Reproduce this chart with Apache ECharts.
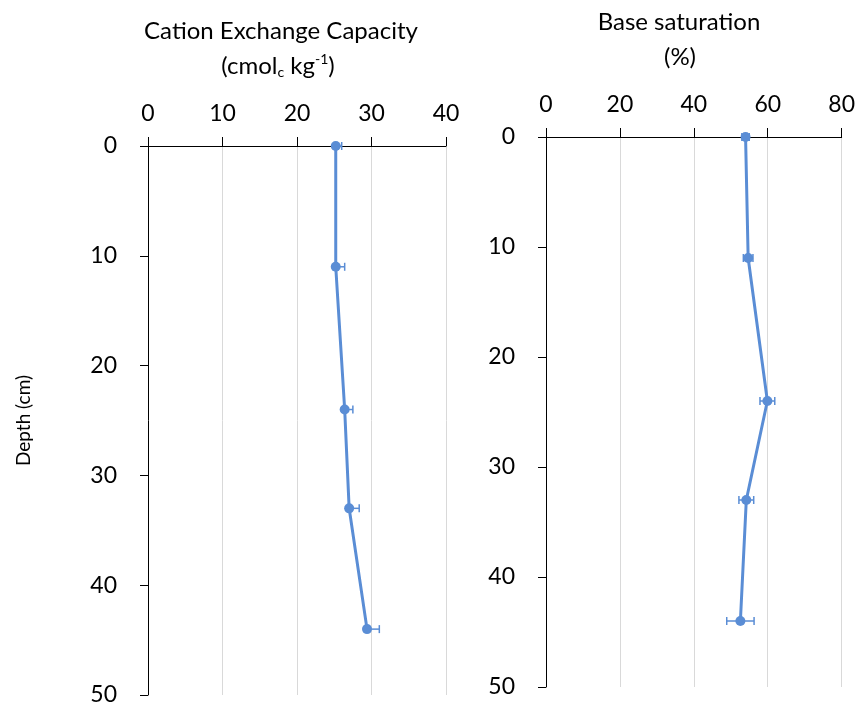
<!DOCTYPE html>
<html>
<head>
<meta charset="utf-8">
<script src="https://cdn.jsdelivr.net/npm/echarts@6/dist/echarts.min.js"></script>
<style>
  html, body { margin: 0; padding: 0; background: #fff; }
  #chart { width: 858px; height: 708px; }
</style>
</head>
<body>
<div id="chart"></div>
<script>
// Soil profile: depth of each sampled layer (cm)
const depths = [0, 11, 24, 33, 44];
// Cation exchange capacity (cmolc/kg) and its standard error (plus direction)
const cecValues = [25.2, 25.2, 26.4, 27.0, 29.4];
const cecErrors = [0.8, 1.2, 1.1, 1.35, 1.65];
// Base saturation (%) and its standard error (both directions)
const bsValues = [54.0, 54.7, 59.9, 54.2, 52.6];
const bsErrors = [1.0, 1.3, 2.0, 2.0, 3.7];
// Tick settings
const cecTicks = { min: 0, max: 40, interval: 10 };
const bsTicks = { min: 0, max: 80, interval: 20 };
const depthTicks = { min: 0, max: 50, interval: 10 };

const FONT = 'Lato, "Open Sans", sans-serif';
const BLUE = '#5A8DD5';

function pairs(xs) { return xs.map((v, i) => [v, depths[i]]); }

// Error bar rows: [value, depth, low, high]
const cecErrRows = cecValues.map((v, i) => [v, depths[i], v, v + cecErrors[i]]);
const bsErrRows = bsValues.map((v, i) => [v, depths[i], v - bsErrors[i], v + bsErrors[i]]);

function errorBarItem(params, api) {
  const d = api.value(1);
  const lo = api.coord([api.value(2), d]);
  const hi = api.coord([api.value(3), d]);
  const cap = 4;
  const style = { stroke: BLUE, lineWidth: 1.5, fill: null };
  const children = [
    { type: 'line', shape: { x1: lo[0], y1: lo[1], x2: hi[0], y2: hi[1] }, style },
    { type: 'line', shape: { x1: hi[0], y1: hi[1] - cap, x2: hi[0], y2: hi[1] + cap }, style }
  ];
  if (api.value(2) < api.value(0)) {
    children.push({ type: 'line', shape: { x1: lo[0], y1: lo[1] - cap, x2: lo[0], y2: lo[1] + cap }, style });
  }
  return { type: 'group', children };
}

function xAxisCfg(gridIndex, ticks) {
  return {
    type: 'value', gridIndex, position: 'top',
    min: ticks.min, max: ticks.max, interval: ticks.interval,
    axisLine: { show: true, onZero: false, lineStyle: { color: '#000', width: 1 } },
    axisTick: { show: true, length: 9, lineStyle: { color: '#000' } },
    axisLabel: { fontFamily: FONT, fontSize: 23, color: '#000', margin: 21 },
    splitLine: { show: true, lineStyle: { color: '#d9d9d9', width: 1 } }
  };
}

function yAxisCfg(gridIndex, withName) {
  const cfg = {
    type: 'value', gridIndex, inverse: true,
    min: depthTicks.min, max: depthTicks.max, interval: depthTicks.interval,
    axisLine: { show: true, onZero: false, lineStyle: { color: '#000', width: 1 } },
    axisTick: { show: true, length: 8, lineStyle: { color: '#000' } },
    axisLabel: { fontFamily: FONT, fontSize: 23, color: '#000', margin: 31 },
    splitLine: { show: false }
  };
  if (withName) {
    Object.assign(cfg, {
      name: 'Depth (cm)', nameLocation: 'middle', nameGap: 115, nameRotate: 90,
      nameTextStyle: { fontFamily: FONT, fontSize: 19, color: '#000' }
    });
  }
  return cfg;
}

const chart = echarts.init(document.getElementById('chart'), null, { renderer: 'canvas' });

const titleStyle = { fontFamily: FONT, fontSize: 24, fill: '#000', textAlign: 'center', textVerticalAlign: 'middle' };

chart.setOption({
  animation: false,
  grid: [
    { left: 148, top: 146, width: 298, height: 549 },
    { left: 546, top: 137, width: 297, height: 550 }
  ],
  xAxis: [xAxisCfg(0, cecTicks), xAxisCfg(1, bsTicks)],
  yAxis: [yAxisCfg(0, true), yAxisCfg(1, false)],
  graphic: [
    { type: 'text', x: 281, y: 31, style: Object.assign({ text: 'Cation Exchange Capacity' }, titleStyle) },
    {
      type: 'text', x: 278, y: 66,
      style: Object.assign({
        text: '(cmol{sub|c} kg{sup|-1})',
        rich: {
          sub: { fontFamily: FONT, fontSize: 14, fill: '#000', padding: [13, 0, 0, 0] },
          sup: { fontFamily: FONT, fontSize: 14, fill: '#000', padding: [0, 0, 13, 0] }
        }
      }, titleStyle)
    },
    { type: 'text', x: 679, y: 22, style: Object.assign({ text: 'Base saturation' }, titleStyle) },
    { type: 'text', x: 680, y: 57, style: Object.assign({ text: '(%)' }, titleStyle) }
  ],
  series: [
    {
      type: 'line', xAxisIndex: 0, yAxisIndex: 0, data: pairs(cecValues),
      symbol: 'circle', symbolSize: 10,
      lineStyle: { color: BLUE, width: 3 }, itemStyle: { color: BLUE }, z: 3
    },
    {
      type: 'custom', xAxisIndex: 0, yAxisIndex: 0, data: cecErrRows,
      renderItem: errorBarItem, z: 2
    },
    {
      type: 'line', xAxisIndex: 1, yAxisIndex: 1, data: pairs(bsValues),
      symbol: 'circle', symbolSize: 10,
      lineStyle: { color: BLUE, width: 3 }, itemStyle: { color: BLUE }, z: 3
    },
    {
      type: 'custom', xAxisIndex: 1, yAxisIndex: 1, data: bsErrRows,
      renderItem: errorBarItem, z: 2
    }
  ]
});
</script>
</body>
</html>
